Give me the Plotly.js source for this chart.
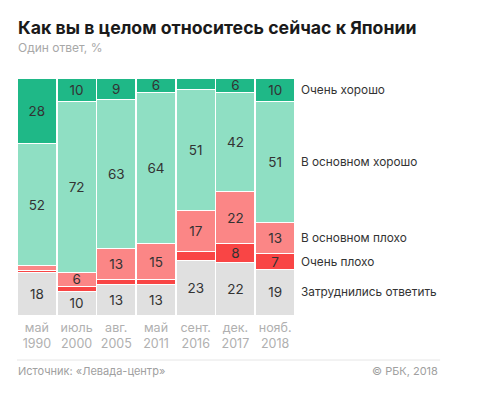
<!DOCTYPE html>
<html>
<head>
<meta charset="utf-8">
<script src="https://cdn.plot.ly/plotly-3.0.1.min.js"></script>
<style>
html,body{margin:0;padding:0;background:#fff;}
#chart{width:493px;height:396px;}
</style>
</head>
<body>
<div id="chart"></div>
<script>
var periods = ["май<br>1990", "июль<br>2000", "авг.<br>2005", "май<br>2011", "сент.<br>2016", "дек.<br>2017", "нояб.<br>2018"];
var seriesNames = ["Затруднились ответить", "Очень плохо", "В основном плохо", "В основном хорошо", "Очень хорошо"];
var hard      = [18, 10, 13, 13, 23, 22, 19];
var veryBad   = [1, 2, 2, 2, 4, 8, 7];
var mostlyBad = [2, 6, 13, 15, 17, 22, 13];
var mostlyGood= [52, 72, 63, 64, 51, 42, 51];
var veryGood  = [28, 10, 9, 6, 5, 6, 10];
var colors = ["#e0e0e0", "#f94545", "#fb8686", "#8fdfc3", "#1fb887"];

var seriesValues = [hard, veryBad, mostlyBad, mostlyGood, veryGood];
var traces = seriesValues.map(function(vals, i){
  return {
    type: "bar",
    x: periods,
    y: vals,
    name: seriesNames[i],
    marker: {color: colors[i], line: {color: "#ffffff", width: 1}},
    text: vals.map(function(v){ return v >= 6 ? String(v) : ""; }),
    textposition: "inside",
    insidetextanchor: "middle",
    textangle: 0,
    constraintext: "none",
    textfont: {family: "Inter, 'Noto Sans', sans-serif", size: 13.5, color: "#333333"},
    hoverinfo: "none",
    cliponaxis: false
  };
});

// legend-like labels aligned with the last column's segments
var last = periods.length - 1;
var annotations = [];
var cum = 0;
var totalLast = seriesValues.reduce(function(s, v){ return s + v[last]; }, 0);
seriesValues.forEach(function(vals, i){
  var mid = (cum + vals[last] / 2) / totalLast * 100;
  cum += vals[last];
  annotations.push({
    xref: "paper", yref: "y", x: 1.015, y: mid, xanchor: "left", yanchor: "middle",
    text: seriesNames[i], showarrow: false,
    font: {family: "Inter, 'Noto Sans', sans-serif", size: 11.8, color: "#333333"}
  });
});

annotations.push({
  xref: "paper", yref: "paper", x: -0.005, y: 1.215, xanchor: "left", yanchor: "middle",
  text: "<b>Как вы в целом относитесь сейчас к Японии</b>", showarrow: false,
  font: {family: "Inter, 'Noto Sans', sans-serif", size: 17.7, color: "#1a1a1a"}
});
annotations.push({
  xref: "paper", yref: "paper", x: -0.005, y: 1.128, xanchor: "left", yanchor: "middle",
  text: "Один ответ, %", showarrow: false,
  font: {family: "Inter, 'Noto Sans', sans-serif", size: 12, color: "#a8a8a8"}
});
annotations.push({
  xref: "paper", yref: "paper", x: -0.005, y: -0.238, xanchor: "left", yanchor: "middle",
  text: "Источник: «Левада-центр»", showarrow: false,
  font: {family: "Inter, 'Noto Sans', sans-serif", size: 11, color: "#a0a0a0"}
});
annotations.push({
  xref: "paper", yref: "paper", x: 1.522, y: -0.238, xanchor: "right", yanchor: "middle",
  text: "© РБК, 2018", showarrow: false,
  font: {family: "Inter, 'Noto Sans', sans-serif", size: 11, color: "#a0a0a0"}
});

var layout = {
  width: 493, height: 396,
  margin: {l: 17, r: 198, t: 78, b: 81},
  paper_bgcolor: "#ffffff", plot_bgcolor: "#ffffff",
  barmode: "stack", barnorm: "percent", bargap: 0.02,
  uniformtext: {mode: "show", minsize: 13.5},
  showlegend: false,
  font: {family: "Inter, 'Noto Sans', sans-serif"},
  xaxis: {
    showgrid: false, zeroline: false, showline: false, fixedrange: true,
    tickfont: {family: "Inter, 'Noto Sans', sans-serif", size: 12.5, color: "#b0b0b0"},
    ticks: "", ticklen: 0, ticklabelstandoff: 3
  },
  yaxis: {
    range: [0, 100], visible: false, showgrid: false, zeroline: false, fixedrange: true
  },
  annotations: annotations,
  shapes: [{
    type: "line", xref: "paper", yref: "paper",
    x0: 0, x1: 1.522, y0: -0.19, y1: -0.19,
    line: {color: "#e6e6e6", width: 1}
  }]
};

Plotly.newPlot("chart", traces, layout, {displayModeBar: false, staticPlot: true});
</script>
</body>
</html>
